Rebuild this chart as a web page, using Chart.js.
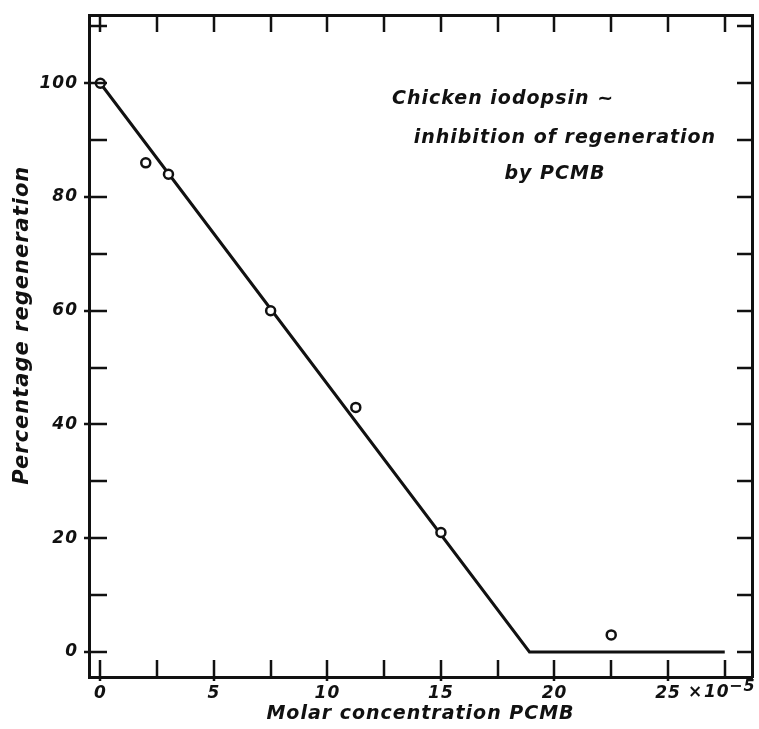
<!DOCTYPE html>
<html lang="en">
<head>
  <meta charset="UTF-8">
  <title>Chicken iodopsin - PCMB inhibition</title>
  <script src="https://cdn.jsdelivr.net/npm/chart.js"></script>
  <style>
    html, body { margin: 0; padding: 0; background: #fff; }
    #wrap { width: 759px; height: 729px; }
  </style>
</head>
<body>
  <div id="wrap"><canvas id="chart"></canvas></div>
<script>
  // measured points: molar conc. PCMB (x 10^-5) vs % regeneration
  const concValues = [0, 2, 3, 7.5, 11.25, 15, 22.5]
  const regenValues = [100, 86, 84, 60, 43, 21, 3]

  // drawn fit: straight fall to zero, then flat
  const fitConc = [0, 18.9, 27.5]
  const fitRegen = [100, 0, 0]

  const xTicks = [0, 2.5, 5, 7.5, 10, 12.5, 15, 17.5, 20, 22.5, 25, 27.5]
  const xLabels = [0, 5, 10, 15, 20, 25]
  const yTicks = [0, 10, 20, 30, 40, 50, 60, 70, 80, 90, 100, 110]
  const yLabels = [0, 20, 40, 60, 80, 100]

  const noteLines = ['Chicken iodopsin ~', 'inhibition of regeneration', 'by PCMB']

  const FONT = '"DejaVu Sans", sans-serif'
  const INK = '#111'
  const SPACING = '1px'

  // wide, stencil-like lettering for every label
  const lettering = {
    id: 'lettering',
    beforeDraw(chart) { chart.ctx.letterSpacing = SPACING }
  }

  // tick marks drawn inward from the frame, like a hand-ruled graph
  const innerTicks = {
    id: 'innerTicks',
    afterDraw(chart) {
      const { ctx, chartArea: a, scales } = chart
      const x = scales.x, y = scales.y
      ctx.save()
      ctx.strokeStyle = INK
      ctx.lineWidth = 2.5
      ctx.beginPath()
      xTicks.forEach(v => {
        const px = Math.round(x.getPixelForValue(v))
        const out = xLabels.includes(v) ? 4 : 0
        ctx.moveTo(px, a.bottom + out); ctx.lineTo(px, a.bottom - 17)
        ctx.moveTo(px, a.top); ctx.lineTo(px, a.top + 17)
      })
      yTicks.forEach(v => {
        const py = Math.round(y.getPixelForValue(v))
        const out = yLabels.includes(v) ? 5 : 0
        ctx.moveTo(a.left - out, py); ctx.lineTo(a.left + 18, py)
        ctx.moveTo(a.right, py); ctx.lineTo(a.right - 15, py)
      })
      ctx.stroke()

      // exponent after the last label
      ctx.letterSpacing = '1px'
      ctx.fillStyle = INK
      ctx.textBaseline = 'middle'
      ctx.textAlign = 'left'
      const px25 = x.getPixelForValue(25)
      const labelY = a.bottom + 16
      ctx.font = 'italic bold 17px ' + FONT
      ctx.fillText('×', px25 + 20, labelY)
      ctx.fillText('10', px25 + 36, labelY)
      ctx.font = 'italic bold 16px ' + FONT
      ctx.fillText('−5', px25 + 61, labelY - 6)

      // caption inside the plot
      ctx.letterSpacing = SPACING
      ctx.font = 'italic bold 19px ' + FONT
      ctx.fillText(noteLines[0], x.getPixelForValue(12.85), y.getPixelForValue(97.3))
      ctx.fillText(noteLines[1], x.getPixelForValue(13.8), y.getPixelForValue(90.3))
      ctx.fillText(noteLines[2], x.getPixelForValue(17.8), y.getPixelForValue(84.1))
      ctx.restore()
    }
  }

  // fixed box sizes so the plot frame lands where the ruled graph has it
  const fixedSize = (w, h) => scale => {
    if (w !== null) scale.width = w
    if (h !== null) scale.height = h
    scale.paddingTop = 0
    scale.paddingBottom = 0
    scale.paddingLeft = 0
    scale.paddingRight = 0
  }

  const frameBorder = { display: true, color: INK, width: 3 }

  new Chart(document.getElementById('chart'), {
    type: 'scatter',
    data: {
      datasets: [
        {
          label: 'Regeneration',
          data: concValues.map((c, i) => ({ x: c, y: regenValues[i] })),
          pointRadius: 4.5,
          pointBorderWidth: 2.5,
          pointBorderColor: INK,
          pointBackgroundColor: '#fff',
          showLine: false,
          order: 0
        },
        {
          label: 'Fit',
          data: fitConc.map((c, i) => ({ x: c, y: fitRegen[i] })),
          showLine: true,
          borderColor: INK,
          borderWidth: 3,
          pointRadius: 0,
          order: 1
        }
      ]
    },
    options: {
      responsive: true,
      maintainAspectRatio: false,
      animation: false,
      clip: false,
      layout: { padding: 0 },
      plugins: { legend: { display: false }, tooltip: { enabled: false } },
      scales: {
        x: {
          type: 'linear',
          min: -0.5,
          max: 28.7,
          afterBuildTicks: s => { s.ticks = xTicks.map(v => ({ value: v })) },
          afterFit: fixedSize(null, 52),
          grid: { display: false },
          border: frameBorder,
          ticks: {
            autoSkip: false,
            maxRotation: 0,
            padding: -2,
            color: INK,
            font: { family: FONT, size: 17, style: 'italic', weight: 'bold' },
            callback: v => xLabels.includes(v) ? String(v) : ''
          },
          title: {
            display: true,
            text: 'Molar concentration PCMB',
            color: INK,
            padding: { top: 0, bottom: 4 },
            font: { family: FONT, size: 19, style: 'italic', weight: 'bold' }
          }
        },
        x2: {
          type: 'linear',
          position: 'top',
          min: -0.5,
          max: 28.7,
          afterFit: fixedSize(null, 15),
          grid: { display: false },
          border: frameBorder,
          ticks: { display: false }
        },
        y: {
          type: 'linear',
          min: -4.4,
          max: 112,
          afterBuildTicks: s => { s.ticks = yTicks.map(v => ({ value: v })) },
          afterFit: fixedSize(89, null),
          grid: { display: false },
          border: frameBorder,
          ticks: {
            autoSkip: false,
            padding: 3,
            color: INK,
            font: { family: FONT, size: 17, style: 'italic', weight: 'bold' },
            callback: v => yLabels.includes(v) ? String(v) : ''
          },
          title: {
            display: true,
            text: '     Percentage regeneration',
            color: INK,
            padding: { top: 10, bottom: 0 },
            font: { family: FONT, size: 21, style: 'italic', weight: 'bold' }
          }
        },
        y2: {
          type: 'linear',
          position: 'right',
          min: -4.4,
          max: 112,
          afterFit: fixedSize(7, null),
          grid: { display: false },
          border: frameBorder,
          ticks: { display: false }
        }
      }
    },
    plugins: [lettering, innerTicks]
  })
</script>
</body>
</html>
